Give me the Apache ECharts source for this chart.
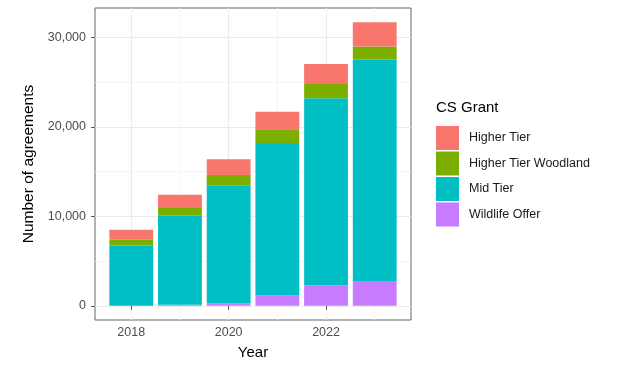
<!DOCTYPE html>
<html>
<head>
<meta charset="utf-8">
<script src="https://cdn.jsdelivr.net/npm/echarts@6/dist/echarts.min.js"></script>
<style>html,body{margin:0;padding:0;background:#fff;}#c{width:620px;height:371px;}</style>
</head>
<body>
<div id="c"></div>
<script>
const years = [2018, 2019, 2020, 2021, 2022, 2023];
const seriesNames = ['Higher Tier', 'Higher Tier Woodland', 'Mid Tier', 'Wildlife Offer'];
const higherTier = [1120, 1490, 1760, 1970, 2240, 2730];
const higherTierWoodland = [640, 860, 1200, 1530, 1600, 1450];
const midTier = [6710, 9960, 13120, 17040, 20920, 24760];
const wildlifeOffer = [20, 110, 300, 1160, 2280, 2760];
const xMajorTicks = [2018, 2020, 2022];
const xMinorTicks = [2019, 2021, 2023];
const yMajorTicks = [0, 10000, 20000, 30000];
const yMinorTicks = [5000, 15000, 25000];

const colors = {
  'Higher Tier': '#F8766D',
  'Higher Tier Woodland': '#7CAE00',
  'Mid Tier': '#00BFC4',
  'Wildlife Offer': '#C77CFF'
};

const gridLeft = 95, gridTop = 8, gridWidth = 316, gridHeight = 312;
const xMin = 2017.255, xMax = 2023.745;
const barW = gridWidth / (xMax - xMin) * 0.9;

const totals = years.map((y, i) => higherTier[i] + higherTierWoodland[i] + midTier[i] + wildlifeOffer[i]);
const yMaxData = Math.max(...totals);
const yMin = -0.05 * yMaxData, yMax = yMaxData * 1.05;

function mk(name, vals) {
  return {
    name: name,
    type: 'bar',
    stack: 'total',
    xAxisIndex: 0,
    yAxisIndex: 0,
    barWidth: barW,
    itemStyle: { color: colors[name] },
    encode: { x: 1, y: 0 },
    dimensions: ['value', 'year'],
    data: years.map((y, i) => [vals[i], y])
  };
}

const fontFam = '"Liberation Sans", Arial, sans-serif';
const chart = echarts.init(document.getElementById('c'), null, { renderer: 'canvas' });
chart.setOption({
  animation: false,
  textStyle: { fontFamily: fontFam },
  title: {
    text: 'CS Grant', left: 436, top: 100, padding: 0,
    textStyle: { fontSize: 15, fontWeight: 'normal', color: '#000', fontFamily: fontFam }
  },
  legend: {
    data: seriesNames,
    orient: 'vertical',
    left: 436, top: 126,
    icon: 'rect',
    itemWidth: 23, itemHeight: 24, itemGap: 1.5,
    padding: 0,
    textStyle: { fontSize: 12.5, color: '#1a1a1a', padding: [0, 0, 0, 5], fontFamily: fontFam }
  },
  grid: { left: gridLeft, top: gridTop, width: gridWidth, height: gridHeight, show: true, borderColor: '#666', borderWidth: 1, backgroundColor: 'transparent' },
  xAxis: [
    {
      type: 'value', min: xMin, max: xMax, position: 'bottom',
      name: 'Year', nameLocation: 'middle', nameGap: 25,
      nameTextStyle: { fontSize: 15, color: '#000', fontFamily: fontFam },
      axisLine: { show: false },
      axisTick: { show: true, length: 4, lineStyle: { color: '#555' }, customValues: xMajorTicks },
      axisLabel: { customValues: xMajorTicks, fontSize: 12.5, color: '#4D4D4D', margin: 6, formatter: v => String(v) },
      splitLine: { show: true, lineStyle: { color: '#EBEBEB', width: 1.1 } }
    },
    {
      type: 'value', min: xMin, max: xMax, position: 'bottom',
      axisLine: { show: false },
      axisTick: { show: false, customValues: xMinorTicks },
      axisLabel: { show: false, customValues: xMinorTicks },
      splitLine: { show: true, lineStyle: { color: '#F2F2F2', width: 0.8 } }
    }
  ],
  yAxis: [
    {
      type: 'value', min: yMin, max: yMax,
      name: 'Number of agreements', nameLocation: 'middle', nameGap: 55, nameRotate: 90,
      nameTextStyle: { fontSize: 15.5, color: '#000', fontFamily: fontFam },
      axisLine: { show: false },
      axisTick: { show: true, length: 4, lineStyle: { color: '#555' }, customValues: yMajorTicks },
      axisLabel: { customValues: yMajorTicks, fontSize: 12.5, color: '#4D4D4D', margin: 9, formatter: v => v.toLocaleString('en-US') },
      splitLine: { show: true, lineStyle: { color: '#EBEBEB', width: 1.1 } }
    },
    {
      type: 'value', min: yMin, max: yMax, position: 'left',
      axisLine: { show: false },
      axisTick: { show: false, customValues: yMinorTicks },
      axisLabel: { show: false, customValues: yMinorTicks },
      splitLine: { show: true, lineStyle: { color: '#F2F2F2', width: 0.8 } }
    }
  ],
  series: [
    mk('Wildlife Offer', wildlifeOffer),
    mk('Mid Tier', midTier),
    mk('Higher Tier Woodland', higherTierWoodland),
    mk('Higher Tier', higherTier)
  ]
});
</script>
</body>
</html>
